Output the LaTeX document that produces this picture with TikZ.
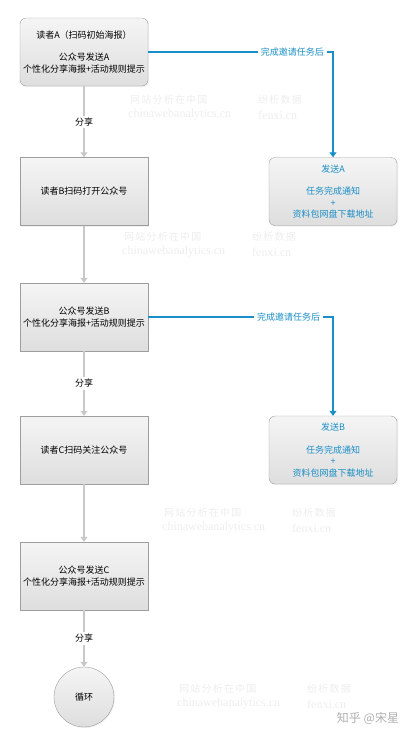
\documentclass[tikz,border=0pt]{standalone}
\usepackage{fontspec}
\setmainfont{Noto Sans CJK SC}
\newfontfamily\wmlatin{Liberation Serif}
\newfontfamily\wmcjk[LetterSpace=12]{Noto Sans CJK SC}
\usetikzlibrary{arrows.meta,shadows}
\definecolor{flowblue}{RGB}{26,142,198}
\definecolor{boxline}{RGB}{158,158,158}
\definecolor{arrowgray}{RGB}{200,200,200}
\definecolor{wmgray}{RGB}{237,237,237}
\definecolor{signgray}{RGB}{175,175,175}

\begin{document}
\begin{tikzpicture}[x=1pt,y=-1pt,
  font=\fontsize{9}{11.5}\selectfont,
  stepbox/.style={draw=boxline, top color=white!96!black, bottom color=black!13,
    minimum width=128pt, minimum height=68pt, inner sep=1pt, align=center,
    drop shadow={opacity=0.12,shadow xshift=1pt,shadow yshift=-1pt}},
  roundbox/.style={stepbox, rounded corners=6pt},
  giftbox/.style={roundbox, text=flowblue},
  share/.style={draw=arrowgray, line width=1.5pt, -{Triangle[width=7pt,length=5pt]}},
  notify/.style={draw=flowblue, line width=1.2pt, -{Triangle[width=7pt,length=5pt]}},
  sharelabel/.style={fill=white, inner sep=2pt},
  donelabel/.style={fill=white, text=flowblue, inner sep=3pt},
  watermark/.style={text=wmgray, anchor=west, inner sep=0pt}]
  \useasboundingbox (0,0) rectangle (415,745);

  % watermarks
  \foreach \wx/\wy in {128/100, 122/237, 162/513, 177/689} {
    \node[watermark, font=\wmcjk\fontsize{10}{10}\selectfont] (wmcn\wy) at (\wx+2,\wy) {网站分析在中国};
    \node[watermark, font=\wmlatin\fontsize{12}{12}\selectfont] (wmen\wy) at (\wx,\wy+15) {chinawebanalytics.cn};
    \node[watermark, font=\wmcjk\fontsize{10}{10}\selectfont] (wmfx\wy) at (\wx+130,\wy) {纷析数据};
    \node[watermark, font=\wmlatin\fontsize{12}{12}\selectfont] (wmfn\wy) at (\wx+130,\wy+15) {fenxi.cn};
  }
  \node[text=signgray, font=\fontsize{12}{12}\selectfont] (sign) at (368,718) {知乎 @宋星};

  % main column
  \node[roundbox] (readerA) at (84,52) {读者A（扫码初始海报）\\[11pt]公众号发送A\\个性化分享海报+活动规则提示};
  \node[stepbox] (readerB) at (84,191.5) {读者B扫码打开公众号};
  \node[stepbox] (sendB) at (84,317) {公众号发送B\\个性化分享海报+活动规则提示};
  \node[stepbox] (readerC) at (84,450) {读者C扫码关注公众号};
  \node[stepbox] (sendC) at (84,576) {公众号发送C\\个性化分享海报+活动规则提示};
  \node[stepbox, circle, minimum size=60pt] (loop) at (84,697) {循环};

  % rewards
  \node[giftbox] (giftA) at (333,191.5) {发送A\\[11pt]任务完成通知\\+\\资料包网盘下载地址};
  \node[giftbox] (giftB) at (333,450) {发送B\\[11pt]任务完成通知\\+\\资料包网盘下载地址};

  \draw[share] (readerA) -- node[sharelabel] (shareA) {分享} (readerB);
  \draw[share] (readerB) -- (sendB);
  \draw[share] (sendB) -- node[sharelabel] (shareB) {分享} (readerC);
  \draw[share] (readerC) -- (sendC);
  \draw[share] (sendC) -- node[sharelabel] (shareC) {分享} (loop);

  \draw[notify] (readerA.east) -| node[donelabel, pos=0.39] (doneA) {完成邀请任务后} (giftA.north);
  \draw[notify] (sendB.east) -| node[donelabel, pos=0.38] (doneB) {完成邀请任务后} (giftB.north);
\end{tikzpicture}
\end{document}
